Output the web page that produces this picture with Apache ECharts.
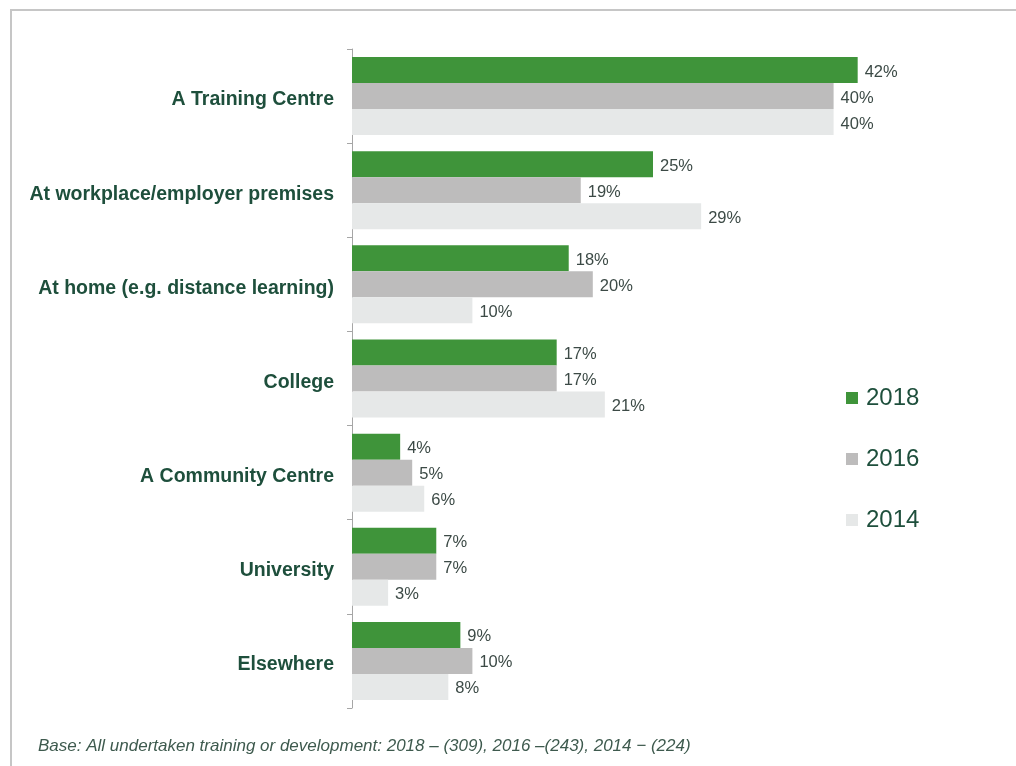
<!DOCTYPE html>
<html>
<head>
<meta charset="utf-8">
<script src="https://cdn.jsdelivr.net/npm/echarts@6/dist/echarts.min.js"></script>
<style>
  html, body { margin: 0; padding: 0; background: #fff; }
  #chart { width: 1016px; height: 766px; }
</style>
</head>
<body>
<div id="chart"></div>
<script>
// Where training took place, by survey year (%)
const categories = [
  'A Training Centre',
  'At workplace/employer premises',
  'At home (e.g. distance learning)',
  'College',
  'A Community Centre',
  'University',
  'Elsewhere'
];
const years = ['2018', '2016', '2014'];
const values2018 = [42, 25, 18, 17, 4, 7, 9];
const values2016 = [40, 19, 20, 17, 5, 7, 10];
const values2014 = [40, 29, 10, 21, 6, 3, 8];
const footnote = 'Base: All undertaken training or development: 2018 \u2013 (309), 2016 \u2013(243), 2014 \u2212 (224)';

const colors = ['#3f943a', '#bdbcbc', '#e6e8e8'];
const textGreen = '#1e4f3c';
const baseFont = 'Liberation Sans, Arial, sans-serif';

const chart = echarts.init(document.getElementById('chart'));

function barSeries(name, data, color) {
  return {
    name: name,
    type: 'bar',
    data: data,
    barWidth: 26,
    barGap: '0%',
    itemStyle: { color: color },
    label: {
      show: true,
      position: 'right',
      distance: 7,
      formatter: '{c}%',
      color: '#3c4a46',
      fontFamily: baseFont,
      fontSize: 16.5,
      offset: [0, 2]
    },
    silent: true
  };
}

chart.setOption({
  animation: false,
  backgroundColor: '#ffffff',
  graphic: [{
    type: 'rect',
    shape: { x: 11, y: 10, width: 1100, height: 900 },
    style: { fill: 'none', stroke: '#c6c6c6', lineWidth: 2 },
    z: -1
  }, {
    type: 'text',
    left: 38,
    top: 738,
    style: {
      text: footnote,
      fill: '#3e5a4e',
      font: 'italic 17px "Liberation Sans", Arial, sans-serif'
    }
  }],
  legend: {
    orient: 'vertical',
    left: 841,
    top: 380,
    itemWidth: 12,
    itemHeight: 12,
    itemGap: 35,
    icon: 'rect',
    data: years,
    textStyle: {
      color: textGreen,
      fontSize: 24,
      lineHeight: 26,
      fontFamily: baseFont,
      padding: [0, 0, 0, 3]
    }
  },
  grid: {
    left: 352,
    top: 49,
    width: 602,
    height: 659,
    containLabel: false
  },
  xAxis: {
    type: 'value',
    min: 0,
    max: 50,
    show: false
  },
  yAxis: {
    type: 'category',
    inverse: true,
    data: categories,
    axisLine: { show: true, lineStyle: { color: '#a6a6a6', width: 1 } },
    axisTick: { show: true, length: 5, lineStyle: { color: '#a6a6a6' } },
    axisLabel: {
      margin: 18,
      formatter: function (v) { return '{c|' + v + '}'; },
      rich: {
        c: {
          color: textGreen,
          fontWeight: 'bold',
          fontSize: 19.5,
          fontFamily: baseFont,
          padding: [8, 0, 0, 0]
        }
      }
    }
  },
  series: [
    barSeries(years[0], values2018, colors[0]),
    barSeries(years[1], values2016, colors[1]),
    barSeries(years[2], values2014, colors[2])
  ]
});
</script>
</body>
</html>
